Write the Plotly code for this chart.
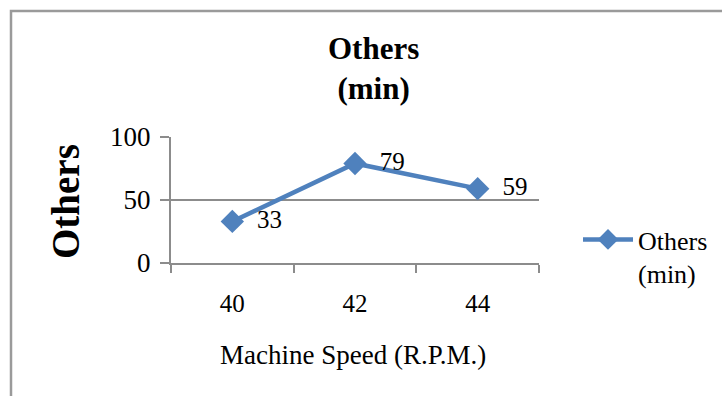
import plotly.graph_objects as go

# Machine speed categories and measured "Others" time
speeds = ["40", "42", "44"]
others_min = [33, 79, 59]
y_ticks = [0, 50, 100]

FONT = "Liberation Serif"
BLUE = "#4F81BD"
GRAY = "#8C8C8C"

# plot area in pixels: x 171..539, y 137..263
W, H = 722, 396
L, R, T, B = 171, 539, 137, 263
pw, ph = R - L, B - T


def px(x):
    return (x - L) / pw


def py(y):
    return (B - y) / ph


fig = go.Figure()
fig.add_trace(go.Scatter(
    x=speeds,
    y=others_min,
    mode="lines+markers+text",
    name="Others<br>(min)",
    line=dict(color=BLUE, width=4.5),
    marker=dict(symbol="diamond", size=18, color=BLUE),
    text=["  " + str(v) for v in others_min],
    textposition="middle right",
    textfont=dict(family=FONT, size=25, color="black"),
    cliponaxis=False,
))

fig.update_layout(
    width=W, height=H,
    margin=dict(l=L, r=W - R, t=T, b=H - B, autoexpand=False),
    paper_bgcolor="white",
    plot_bgcolor="white",
    font=dict(family=FONT, color="black"),
    showlegend=True,
    legend=dict(
        x=px(578), y=py(216), xanchor="left", yanchor="top",
        font=dict(family=FONT, size=26, color="black"),
        valign="top",
        bgcolor="rgba(0,0,0,0)",
        itemwidth=50,
    ),
    xaxis=dict(
        type="category",
        range=[-0.5, 2.5],
        tickson="boundaries",
        ticks="outside",
        ticklen=8,
        tickwidth=2,
        tickcolor=GRAY,
        showline=True,
        linecolor=GRAY,
        linewidth=2,
        showgrid=False,
        tickfont=dict(family=FONT, size=25, color="black"),
        ticklabelstandoff=17,
        automargin=False,
        fixedrange=True,
    ),
    yaxis=dict(
        range=[0, 100],
        tickvals=y_ticks,
        ticks="outside",
        ticklen=9,
        tickwidth=2,
        tickcolor=GRAY,
        showline=True,
        linecolor=GRAY,
        linewidth=2,
        showgrid=True,
        gridcolor=GRAY,
        gridwidth=2,
        zeroline=False,
        tickfont=dict(family=FONT, size=27, color="black"),
        ticklabelstandoff=4,
        automargin=False,
        fixedrange=True,
    ),
    annotations=[
        dict(text="<b>Others<br>(min)</b>", xref="paper", yref="paper",
             x=px(373), y=py(68), xanchor="center", yanchor="middle",
             showarrow=False, font=dict(family=FONT, size=31, color="black")),
        dict(text="<b>Others</b>", xref="paper", yref="paper",
             x=px(65), y=py(202), xanchor="center", yanchor="middle",
             textangle=-90, showarrow=False,
             font=dict(family=FONT, size=39, color="black")),
        dict(text="Machine Speed (R.P.M.)", xref="paper", yref="paper",
             x=px(353), y=py(355), xanchor="center", yanchor="middle",
             showarrow=False, font=dict(family=FONT, size=27, color="black")),
    ],
    shapes=[
        dict(type="rect", xref="paper", yref="paper",
             x0=px(11), x1=px(740), y0=py(420), y1=py(11),
             line=dict(color="#9A9A9A", width=2.5), fillcolor="rgba(0,0,0,0)",
             layer="below"),
    ],
)

fig.write_html("out.html")
